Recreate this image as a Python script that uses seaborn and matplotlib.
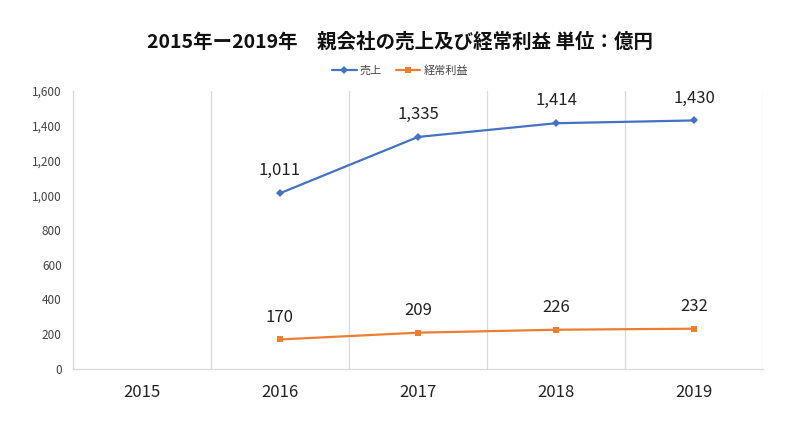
import numpy as np
import pandas as pd
import matplotlib
matplotlib.use("Agg")
import matplotlib.pyplot as plt
import seaborn as sns
from matplotlib.lines import Line2D

years = ["2015", "2016", "2017", "2018", "2019"]
sales = [np.nan, 1011, 1335, 1414, 1430]
profit = [np.nan, 170, 209, 226, 232]
series_names = ["売上", "経常利益"]
title = "2015年ー2019年　親会社の売上及び経常利益 単位：億円"

sns.set_theme(style="white")
plt.rcParams['font.family'] = ['Noto Sans CJK JP', 'DejaVu Sans']

df = pd.DataFrame({
    "year": years * 2,
    "x": list(range(len(years))) * 2,
    "value": sales + profit,
    "series": [series_names[0]] * len(years) + [series_names[1]] * len(years),
})

fig = plt.figure(figsize=(8, 4.38), dpi=100)
ax = fig.add_axes([0.091, 0.1575, 0.863, 0.635])

palette = {series_names[0]: "#4472C4", series_names[1]: "#ED7D31"}
markers = {series_names[0]: "D", series_names[1]: "s"}
sns.lineplot(data=df.dropna(), x="x", y="value", hue="series", style="series",
             markers=markers, dashes=False, palette=palette, ax=ax,
             linewidth=1.6, markersize=5, markeredgewidth=0, legend=False)
for line in ax.lines:
    if line.get_marker() == "D":
        line.set_markersize(4)

for vals in (sales, profit):
    for i, v in enumerate(vals):
        if not np.isnan(v):
            ax.annotate(f"{int(v):,}", (i, v), xytext=(0, 10), textcoords="offset points",
                        ha="center", va="bottom", fontsize=12, color="#222222")

ax.set_xlim(-0.5, len(years) - 0.5)
ax.set_ylim(0, 1600)
ax.set_yticks(range(0, 1601, 200))
ax.set_yticklabels([f"{v:,}" for v in range(0, 1601, 200)], fontsize=8.5, color="#444444")
ax.set_xticks(range(len(years)))
ax.set_xticklabels(years, fontsize=12, color="#222222")
ax.set_xticks(np.arange(-0.5, len(years), 1.0), minor=True)
ax.grid(which="minor", axis="x", color="#D9D9D9", linewidth=0.9)
ax.grid(which="major", visible=False)
ax.tick_params(axis="both", which="both", length=0)
ax.tick_params(axis="x", pad=11)
ax.tick_params(axis="y", pad=8)
ax.set_xlabel("")
ax.set_ylabel("")
for s in ["top", "right"]:
    ax.spines[s].set_visible(False)
for s in ["left", "bottom"]:
    ax.spines[s].set_color("#D9D9D9")
    ax.spines[s].set_linewidth(0.9)

fig.text(0.5, 0.905, title, ha="center", va="center", fontsize=14, fontweight="bold", color="#111111")

handles = [Line2D([0], [0], color=palette[n], marker=markers[n], markersize=4 if markers[n] == "D" else 5,
                  markeredgewidth=0, linewidth=1.6) for n in series_names]
fig.legend(handles, series_names, loc="center", bbox_to_anchor=(0.5, 0.838), ncol=2, frameon=False,
           fontsize=8, handlelength=2.2, handletextpad=0.3, columnspacing=1.2,
           labelcolor="#444444")

fig.savefig("out.png", dpi=100)
